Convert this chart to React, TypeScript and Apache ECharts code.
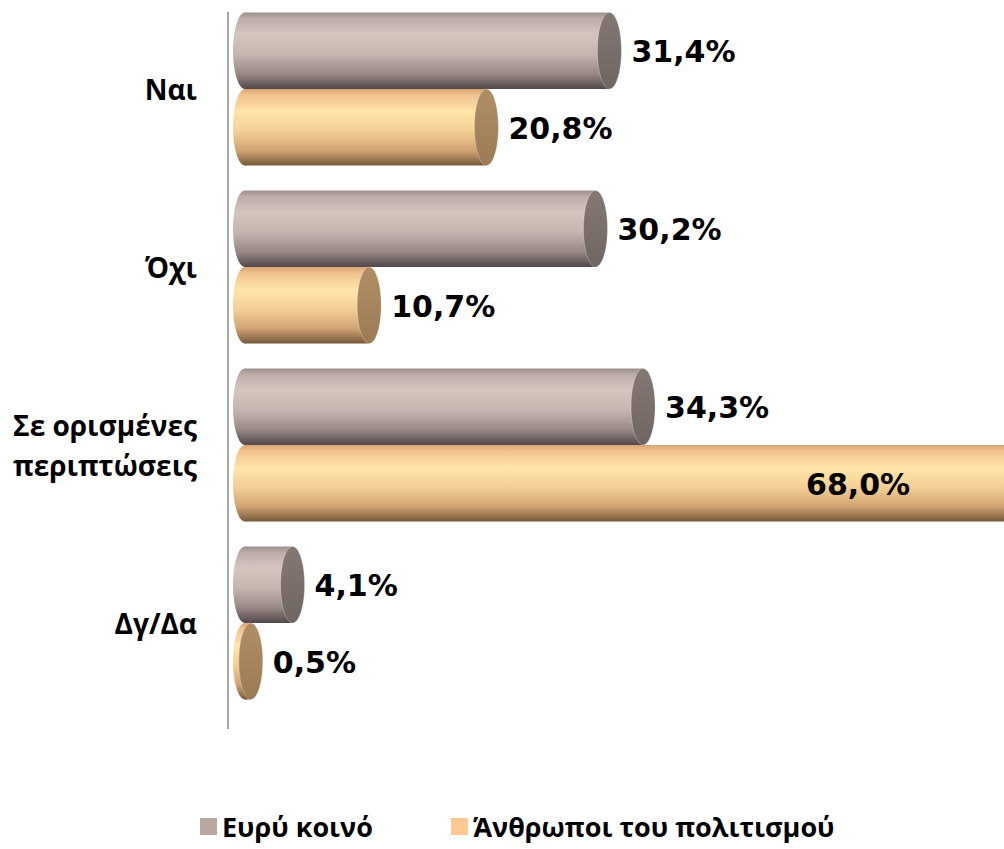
import React, { useEffect, useRef } from "react";
import * as echarts from "echarts";

const categories = ["Ναι", "Όχι", "Σε ορισμένες\nπεριπτώσεις", "Δγ/Δα"];
const seriesNames = ["Ευρύ κοινό", "Άνθρωποι του πολιτισμού"];
const generalPublic = [31.4, 30.2, 34.3, 4.1];
const culturePeople = [20.8, 10.7, 68.0, 0.5];

const legendColors = ["#b9a7a2", "#fdc891"];
const bodyStops = [
  [
    [0, "#9c8f8c"],
    [0.08, "#bcaca8"],
    [0.28, "#d6c4be"],
    [0.55, "#c6b4af"],
    [0.8, "#988985"],
    [1, "#52474a"],
  ],
  [
    [0, "#d8a574"],
    [0.08, "#f1c28e"],
    [0.3, "#ffe5aa"],
    [0.55, "#f4cf95"],
    [0.8, "#d2a474"],
    [1, "#76593a"],
  ],
];
const capColors = [
  ["#847874", "#6f6561"],
  ["#b08e65", "#9c7b55"],
];

function fmt(v: number) {
  return v.toFixed(1).replace(".", ",") + "%";
}

export default function App() {
  const ref = useRef<HTMLDivElement>(null);
  useEffect(() => {
    if (!ref.current) return;
    const chart = echarts.init(ref.current, null, { renderer: "svg" });
    const W = 1004;
    const renderItem = (params: any, api: any) => {
      const si = params.seriesIndex;
      const v = api.value(0);
      const c = api.value(1);
      const p0 = api.coord([0, c]);
      const p1 = api.coord([v, c]);
      const band = api.size([0, 1])[1];
      const h = band * 0.43;
      const cy = p0[1] + (si === 0 ? -h / 2 : h / 2);
      const rx = 12;
      const ry = h / 2;
      const grad = () =>
        new echarts.graphic.LinearGradient(
          0,
          0,
          0,
          1,
          bodyStops[si].map((s: any) => ({ offset: s[0], color: s[1] }))
        );
      const capGrad = new echarts.graphic.LinearGradient(0, 0, 0, 1, [
        { offset: 0, color: capColors[si][0] },
        { offset: 1, color: capColors[si][1] },
      ]);
      const endX = p1[0];
      const inside = endX + rx + 125 > W;
      const label = fmt(v);
      return {
        type: "group",
        children: [
          {
            type: "ellipse",
            shape: { cx: p0[0], cy, rx, ry },
            style: { fill: grad() },
          },
          {
            type: "rect",
            shape: { x: p0[0], y: cy - ry, width: Math.max(endX - p0[0], 0), height: h },
            style: { fill: grad() },
          },
          {
            type: "ellipse",
            shape: { cx: endX, cy, rx, ry },
            style: { fill: capGrad, stroke: "rgba(255,255,255,0.25)", lineWidth: 1 },
          },
          {
            type: "text",
            x: inside ? endX - 124 : endX + rx + 10,
            y: cy + 1,
            style: {
              text: label,
              fill: "#000",
              font: "bold 30px 'DejaVu Sans'",
              align: inside ? "right" : "left",
              verticalAlign: "middle",
            },
          },
        ],
      };
    };
    const mk = (name: string, vals: number[], i: number) => ({
      name,
      type: "custom",
      renderItem,
      itemStyle: { color: legendColors[i] },
      encode: { x: 0, y: 1 },
      data: vals.map((v, k) => [v, k]),
      clip: false,
    });
    chart.setOption({
      animation: false,
      grid: { left: 245, top: -6, right: 0, height: 718 },
      xAxis: { type: "value", min: 0, max: 65.4, show: false },
      yAxis: {
        type: "category",
        data: categories,
        inverse: true,
        axisLine: { show: false },
        axisTick: { show: false },
        splitLine: { show: false },
        axisLabel: {
          margin: 48,
          fontSize: 28,
          fontWeight: "bold",
          fontFamily: "'Open Sans'",
          color: "#000",
          lineHeight: 40,
          align: "right",
        },
      },
      legend: {
        top: 808,
        left: 195,
        icon: "rect",
        itemWidth: 17,
        itemHeight: 17,
        itemGap: 78,
        textStyle: {
          fontSize: 27,
          fontWeight: "bold",
          fontFamily: "'Open Sans'",
          color: "#000",
        },
        data: seriesNames,
      },
      graphic: [
        {
          type: "line",
          shape: { x1: 228, y1: 12, x2: 228, y2: 729 },
          style: { stroke: "#a6a6a6", lineWidth: 2 },
          z: 10,
        },
      ],
      series: [mk(seriesNames[0], generalPublic, 0), mk(seriesNames[1], culturePeople, 1)],
    });
    return () => chart.dispose();
  }, []);
  return (
    <div
      ref={ref}
      style={{ position: "fixed", left: 0, top: 0, width: 1004, height: 849, background: "#fff" }}
    />
  );
}
